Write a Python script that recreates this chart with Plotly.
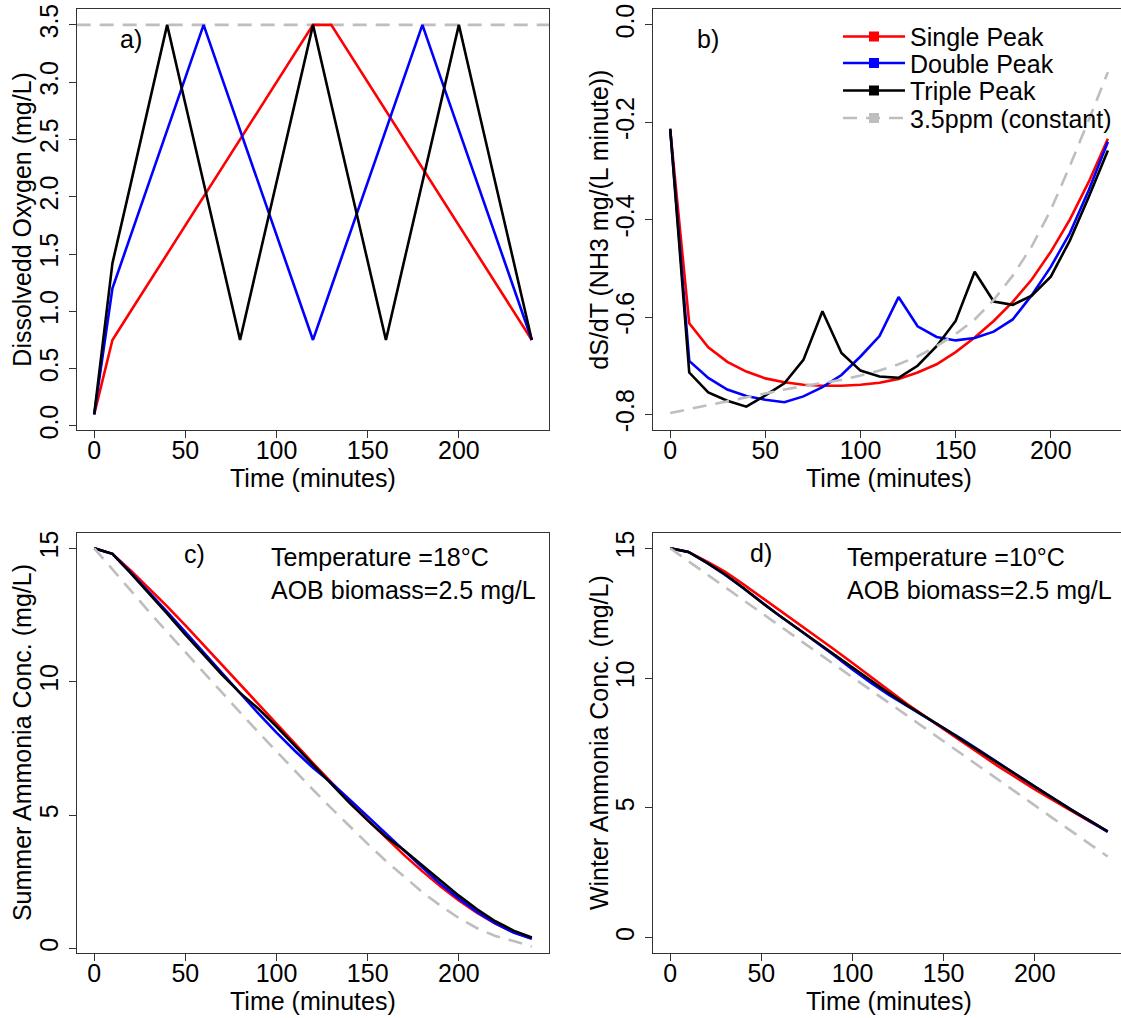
import plotly.graph_objects as go

# ---------------- data ----------------
TIME = [0, 10, 20, 30, 40, 50, 60, 70, 80, 90, 100, 110, 120,
        130, 140, 150, 160, 170, 180, 190, 200, 210, 220, 230, 240]
TIME_B = TIME[:-1]  # 0..230

# a) dissolved oxygen profiles (mg/L)
DO_SINGLE = [0.10, 0.75, 1.00, 1.25, 1.50, 1.75, 2.00, 2.25, 2.50, 2.75, 3.00, 3.25, 3.50,
             3.50, 3.25, 3.00, 2.75, 2.50, 2.25, 2.00, 1.75, 1.50, 1.25, 1.00, 0.75]
DO_DOUBLE = [0.10, 1.20, 1.66, 2.12, 2.58, 3.04, 3.50, 3.04, 2.58, 2.12, 1.67, 1.21, 0.75,
             1.21, 1.67, 2.12, 2.58, 3.04, 3.50, 3.04, 2.58, 2.12, 1.67, 1.21, 0.75]
DO_TRIPLE = [0.10, 1.42, 2.11, 2.81, 3.50, 2.81, 2.12, 1.44, 0.75, 1.44, 2.12, 2.81, 3.50,
             2.81, 2.12, 1.44, 0.75, 1.44, 2.12, 2.81, 3.50, 2.81, 2.12, 1.44, 0.75]
DO_CONST = 3.5

# b) dS/dT
RATE_SINGLE = [-0.215, -0.613, -0.662, -0.692, -0.712, -0.726, -0.734, -0.739, -0.741, -0.741,
               -0.739, -0.735, -0.727, -0.714, -0.697, -0.672, -0.642, -0.608, -0.569, -0.523,
               -0.466, -0.400, -0.322, -0.234]
RATE_DOUBLE = [-0.215, -0.690, -0.725, -0.749, -0.762, -0.770, -0.775, -0.763, -0.744, -0.719,
               -0.681, -0.639, -0.559, -0.619, -0.641, -0.648, -0.643, -0.630, -0.605, -0.555,
               -0.497, -0.428, -0.339, -0.240]
RATE_TRIPLE = [-0.213, -0.714, -0.755, -0.772, -0.784, -0.761, -0.736, -0.688, -0.588, -0.674,
               -0.710, -0.722, -0.725, -0.700, -0.660, -0.608, -0.507, -0.568, -0.575, -0.556,
               -0.517, -0.443, -0.353, -0.258]
RATE_CONST = [-0.797, -0.789, -0.781, -0.773, -0.764, -0.756, -0.749, -0.742, -0.736, -0.729,
              -0.720, -0.710, -0.697, -0.681, -0.660, -0.635, -0.605, -0.565, -0.515, -0.455,
              -0.380, -0.290, -0.195, -0.097]

# c) summer ammonia (mg/L)
SUM_SINGLE = [15.00, 14.79, 14.17, 13.51, 12.82, 12.11, 11.38, 10.65, 9.91, 9.17, 8.43, 7.69, 6.95,
              6.22, 5.51, 4.81, 4.14, 3.50, 2.89, 2.32, 1.80, 1.33, 0.93, 0.61, 0.38]
SUM_DOUBLE = [15.00, 14.79, 14.10, 13.37, 12.62, 11.86, 11.09, 10.31, 9.55, 8.81, 8.09, 7.41, 6.77,
              6.21, 5.59, 4.95, 4.30, 3.66, 3.03, 2.42, 1.87, 1.37, 0.94, 0.60, 0.36]
SUM_TRIPLE = [15.00, 14.79, 14.07, 13.32, 12.55, 11.76, 11.00, 10.27, 9.58, 8.99, 8.32, 7.61, 6.88,
              6.16, 5.46, 4.80, 4.19, 3.68, 3.12, 2.54, 1.98, 1.47, 1.02, 0.67, 0.41]
SUM_CONST = [15.00, 14.20, 13.41, 12.63, 11.86, 11.10, 10.34, 9.59, 8.85, 8.11, 7.38, 6.66, 5.95,
             5.26, 4.58, 3.92, 3.28, 2.68, 2.11, 1.60, 1.14, 0.76, 0.47, 0.28, 0.07]

# d) winter ammonia (mg/L)
WIN_SINGLE = [15.00, 14.86, 14.50, 14.10, 13.62, 13.12, 12.62, 12.12, 11.62, 11.10, 10.58, 10.05, 9.52,
              9.00, 8.52, 8.05, 7.56, 7.08, 6.60, 6.15, 5.72, 5.30, 4.88, 4.48, 4.10]
WIN_DOUBLE = [15.00, 14.86, 14.45, 13.98, 13.47, 12.93, 12.40, 11.90, 11.40, 10.87, 10.33, 9.82, 9.35,
              8.93, 8.52, 8.10, 7.65, 7.20, 6.73, 6.27, 5.82, 5.38, 4.93, 4.50, 4.08]
WIN_TRIPLE = [15.00, 14.86, 14.45, 14.00, 13.48, 12.92, 12.40, 11.90, 11.42, 10.92, 10.42, 9.92, 9.42,
              8.95, 8.52, 8.08, 7.62, 7.17, 6.72, 6.27, 5.82, 5.38, 4.93, 4.52, 4.10]
WIN_CONST = [15.00, 14.50, 14.00, 13.50, 13.00, 12.50, 12.00, 11.50, 11.00, 10.52, 10.03, 9.54, 9.05,
             8.56, 8.07, 7.58, 7.09, 6.60, 6.11, 5.60, 5.10, 4.60, 4.10, 3.62, 3.13]

SERIES_NAMES = ["Single Peak", "Double Peak", "Triple Peak", "3.5ppm (constant)"]

X_TICKS = [0, 50, 100, 150, 200]
X_TICK_TEXT = ["0", "50", "100", "150", "200"]
A_Y_TICKS = [0.0, 0.5, 1.0, 1.5, 2.0, 2.5, 3.0, 3.5]
A_Y_TICK_TEXT = ["0.0", "0.5", "1.0", "1.5", "2.0", "2.5", "3.0", "3.5"]
B_Y_TICKS = [-0.8, -0.6, -0.4, -0.2, 0.0]
B_Y_TICK_TEXT = ["-0.8", "-0.6", "-0.4", "-0.2", "0.0"]
CD_Y_TICKS = [0, 5, 10, 15]
CD_Y_TICK_TEXT = ["0", "5", "10", "15"]

# ---------------- styling ----------------
W, H = 1121, 1018
FONT = "Liberation Sans, Arial, sans-serif"
FS = 25
RED, BLUE, BLACK, GRAY = "#FF0000", "#0000FF", "#000000", "#BEBEBE"
COLORS = [RED, BLUE, BLACK, GRAY]
LW = 2.6
DASH = "14px,9px"
AXC = "#333333"


def fx(p):
    return p / W


def fy(p):
    return 1 - p / H


# panel boxes in pixels
LEFT_A, RIGHT_A = 76.7, 549.3
LEFT_B = 652.7
TOP_1, BOT_1 = 9.3, 430.0
TOP_2, BOT_2 = 532.7, 953.4

fig = go.Figure()


def add_lines(xs, ys_list, xa, ya, dash_last=True):
    for i, ys in enumerate(ys_list):
        is_const = dash_last and i == len(ys_list) - 1
        fig.add_trace(go.Scatter(
            x=xs, y=ys, mode="lines", xaxis=xa, yaxis=ya, showlegend=False,
            hoverinfo="skip",
            line=dict(color=GRAY if is_const else COLORS[i], width=LW,
                      dash=DASH if is_const else "solid")))


# panel a
add_lines(TIME, [DO_SINGLE, DO_DOUBLE, DO_TRIPLE], "x", "y", dash_last=False)
fig.add_shape(type="line", xref="x domain", yref="y", x0=0, x1=1, y0=DO_CONST, y1=DO_CONST,
              line=dict(color=GRAY, width=LW, dash=DASH), layer="below")
# panel b
add_lines(TIME_B, [RATE_SINGLE, RATE_DOUBLE, RATE_TRIPLE, RATE_CONST], "x2", "y2")
# panel c
add_lines(TIME, [SUM_SINGLE, SUM_DOUBLE, SUM_TRIPLE, SUM_CONST], "x3", "y3")
# panel d
add_lines(TIME, [WIN_SINGLE, WIN_DOUBLE, WIN_TRIPLE, WIN_CONST], "x4", "y4")

# legend entries (one legend per row to match R row spacing)
LEG_ROWS = [36.7, 63.3, 90.7, 118.3]
legend_names = ["legend", "legend2", "legend3", "legend4"]
for i, name in enumerate(SERIES_NAMES):
    fig.add_trace(go.Scatter(
        x=[None], y=[None], mode="lines+markers", name=name, xaxis="x2", yaxis="y2",
        legend=legend_names[i], showlegend=True,
        line=dict(color=COLORS[i], width=LW, dash=DASH if i == 3 else "solid"),
        marker=dict(symbol="square", size=10, color=COLORS[i])))

common_axis = dict(showline=True, linecolor=AXC, linewidth=1, ticks="outside", ticklen=7,
                   tickwidth=1, tickcolor=AXC, showgrid=False, zeroline=False,
                   tickfont=dict(size=FS, color="black", family=FONT), automargin=False)
xcommon = dict(common_axis, ticklabelstandoff=-9, tickvals=X_TICKS, ticktext=X_TICK_TEXT, mirror=True)
ycommon = dict(common_axis, ticklabelstandoff=1, tickangle=-90)

layout = dict(
    width=W, height=H, margin=dict(l=0, r=0, t=0, b=0),
    paper_bgcolor="white", plot_bgcolor="white",
    font=dict(family=FONT, size=FS, color="black"),
    xaxis=dict(xcommon, domain=[fx(LEFT_A), fx(RIGHT_A)], range=[-9.6, 249.6], anchor="y"),
    yaxis=dict(ycommon, domain=[fy(BOT_1), fy(TOP_1)], range=[-0.036, 3.636],
               tickvals=A_Y_TICKS, ticktext=A_Y_TICK_TEXT, mirror=True, anchor="x"),
    xaxis2=dict(xcommon, domain=[fx(LEFT_B), 1.0], range=[-9.2, 236.9], anchor="y2"),
    yaxis2=dict(ycommon, domain=[fy(BOT_1), fy(TOP_1)], range=[-0.832, 0.032],
                tickvals=B_Y_TICKS, ticktext=B_Y_TICK_TEXT, mirror=False, anchor="x2"),
    xaxis3=dict(xcommon, domain=[fx(LEFT_A), fx(RIGHT_A)], range=[-9.6, 249.6], anchor="y3"),
    yaxis3=dict(ycommon, domain=[fy(BOT_2), fy(TOP_2)], range=[-0.184, 15.584],
                tickvals=CD_Y_TICKS, ticktext=CD_Y_TICK_TEXT, mirror=True, anchor="x3"),
    xaxis4=dict(xcommon, domain=[fx(LEFT_B), 1.0], range=[-9.6, 247.3], anchor="y4"),
    yaxis4=dict(ycommon, domain=[fy(BOT_2), fy(TOP_2)], range=[-0.6, 15.6],
                tickvals=CD_Y_TICKS, ticktext=CD_Y_TICK_TEXT, mirror=False, anchor="x4"),
)
for i, ln in enumerate(legend_names):
    layout[ln] = dict(x=fx(838), y=fy(LEG_ROWS[i]), xanchor="left", yanchor="middle",
                      font=dict(size=FS, family=FONT, color="black"), bgcolor="rgba(0,0,0,0)",
                      borderwidth=0, itemwidth=62, tracegroupgap=0)
fig.update_layout(**layout)

ann = []
# axis titles
for xc, yc, txt in [(313, 478, "Time (minutes)"), (889, 478, "Time (minutes)"),
                    (313, 1001, "Time (minutes)"), (889, 1001, "Time (minutes)")]:
    ann.append(dict(x=fx(xc), y=fy(yc), xref="paper", yref="paper", text=txt, showarrow=False,
                    xanchor="center", yanchor="middle", font=dict(size=FS)))
for xc, yc, txt in [(22, (TOP_1 + BOT_1) / 2, "Dissolvedd Oxygen (mg/L)"),
                    (599, (TOP_1 + BOT_1) / 2, "dS/dT (NH3 mg/(L minute))"),
                    (22, (TOP_2 + BOT_2) / 2, "Summer Ammonia Conc. (mg/L)"),
                    (599, (TOP_2 + BOT_2) / 2, "Winter Ammonia Conc. (mg/L)")]:
    ann.append(dict(x=fx(xc), y=fy(yc), xref="paper", yref="paper", text=txt, showarrow=False,
                    textangle=-90, xanchor="center", yanchor="middle", font=dict(size=FS)))
# panel labels and condition notes (two lines each, kept as one text block per panel)
NOTE_C = "Temperature =18°C<br>AOB biomass=2.5 mg/L"
NOTE_D = "Temperature =10°C<br>AOB biomass=2.5 mg/L"
ann += [
    dict(x=20, y=3.38, xref="x", yref="y", text="a)", showarrow=False, font=dict(size=FS)),
    dict(x=20, y=-0.03, xref="x2", yref="y2", text="b)", showarrow=False, font=dict(size=FS)),
    dict(x=55, y=14.8, xref="x3", yref="y3", text="c)", showarrow=False, font=dict(size=FS)),
    dict(x=50, y=14.82, xref="x4", yref="y4", text="d)", showarrow=False, font=dict(size=FS)),
    dict(x=96, y=14.06, xref="x3", yref="y3", text=NOTE_C, showarrow=False, align="left",
         xanchor="left", yanchor="middle", font=dict(size=FS)),
    dict(x=96, y=14.01, xref="x4", yref="y4", text=NOTE_D, showarrow=False, align="left",
         xanchor="left", yanchor="middle", font=dict(size=FS)),
]
fig.update_layout(annotations=ann)

fig.write_html("out.html", config={"displayModeBar": False},
               post_script="document.body.style.margin='0';document.body.style.overflow='hidden';")
